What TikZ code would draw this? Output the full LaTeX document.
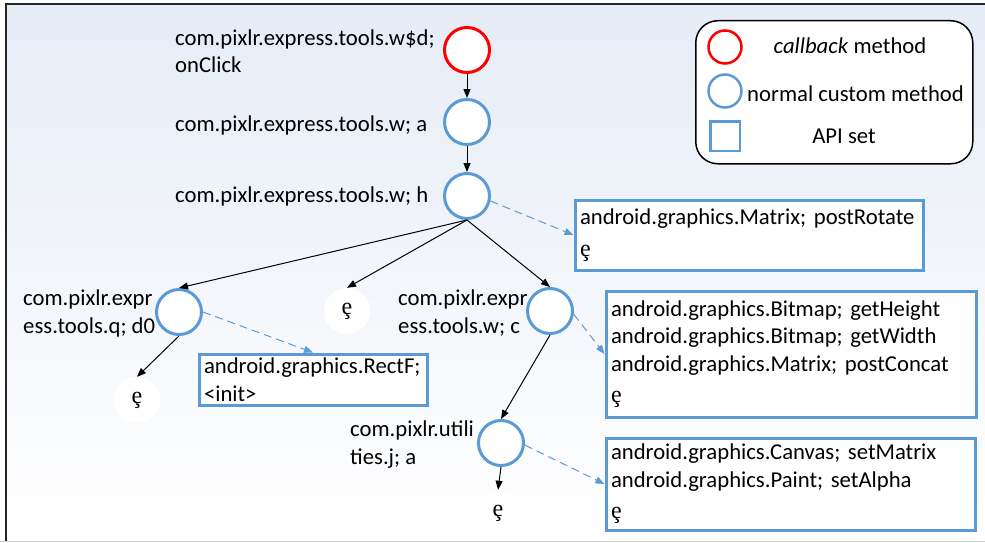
\documentclass[tikz,border=0pt]{standalone}
\usepackage{fontspec}
\setmainfont{Carlito}
\newfontfamily\glyphfont{Liberation Serif}
\usetikzlibrary{arrows.meta}
\definecolor{cbblue}{HTML}{5B9BD5}
\definecolor{cbred}{HTML}{FF0000}
\definecolor{bgtop}{HTML}{E6ECF6}
\definecolor{bgmid}{HTML}{F2F5FB}
\newcommand{\eglyph}{{\glyphfont\fontsize{24}{24}\selectfont ȩ}}
\frenchspacing
\begin{document}
\begin{tikzpicture}[x=1pt,y=-1pt,
  font=\fontsize{22.7}{27.5}\selectfont,
  meth/.style={circle,draw=cbblue,line width=3pt,fill=white,minimum size=45pt,inner sep=0pt},
  cbk/.style={meth,draw=cbred},
  leaf/.style={circle,fill=white,minimum size=46pt,inner sep=0pt},
  apibox/.style={draw=cbblue,line width=3pt,fill=white,align=left,inner xsep=5pt,inner ysep=0pt,anchor=north west},
  lbl/.style={anchor=base west,inner sep=0pt,align=left},
  call/.style={-{Triangle[length=9pt,width=7pt]},line width=1pt,black},
  api/.style={-{Triangle[length=9pt,width=7pt]},line width=1pt,cbblue,dash pattern=on 8pt off 5pt}
]
\useasboundingbox (0,0) rectangle (985,543);
\shade[top color=bgtop, middle color=bgmid, bottom color=white] (6,4) rectangle (985,541);
\draw[black!85,line width=1.5pt] (6,541) -- (6,4) -- (985,4);
\draw[black!18,line width=1.5pt] (0,541.5) -- (985,541.5);

% legend
\node[draw,line width=1.5pt,rounded corners=22pt,fill=white,minimum width=277pt,minimum height=143pt,anchor=north west,inner sep=0pt] (leg) at (695,20) {};
\node[cbk,minimum size=33pt,line width=2.5pt] (lr) at (725,47) {};
\node[meth,minimum size=33pt,line width=2.5pt] (lb) at (725,91) {};
\node[draw=cbblue,line width=2.5pt,minimum size=29.5pt,inner sep=0pt,fill=white] (ls) at (725,136) {};
\node[anchor=base,inner sep=0pt] (t1) at (850,54) {\textit{callback} method};
\node[anchor=base west,inner sep=0pt] (t2) at (747,101) {normal custom method};
\node[anchor=base,inner sep=0pt] (t3) at (844,143) {API set};

% methods
\node[cbk] (r) at (467,50) {};
\node[meth] (a) at (467,122) {};
\node[meth] (h) at (467,196) {};
\node[meth] (d0) at (179,312) {};
\node[leaf] (e1) at (347,311) {\eglyph};
\node[meth] (c) at (550,311) {};
\node[leaf] (e2) at (137,400) {\eglyph};
\node[meth] (j) at (501,443) {};
\node[leaf] (e3) at (498,513) {\eglyph};

% labels
\node[lbl] (l0) at (175,73) {com.pixlr.express.tools.w\$d;\\onClick};
\node[lbl] (l1) at (175,131) {com.pixlr.express.tools.w; a};
\node[lbl] (l2) at (175,202) {com.pixlr.express.tools.w; h};
\node[lbl] (l3) at (23,333) {com.pixlr.expr\\ess.tools.q; d0};
\node[lbl] (l4) at (398,333) {com.pixlr.expr\\ess.tools.w; c};
\node[lbl] (l5) at (350,464) {com.pixlr.utili\\ties.j; a};

% API boxes
\node[apibox,minimum width=348pt,minimum height=70pt,text width=338pt] (mbox) at (573.5,198.5)
  {android.graphics.Matrix; postRotate\\[4pt]\eglyph};
\node[apibox,minimum width=228pt,minimum height=51pt,text width=218pt] (rectf) at (197.5,352.5)
  {android.graphics.RectF;\\<init>};
\node[apibox,minimum width=370pt,minimum height=126pt,text width=360pt] (bmp) at (604.5,289.5)
  {android.graphics.Bitmap; getHeight\\android.graphics.Bitmap; getWidth\\android.graphics.Matrix; postConcat\\[4pt]\eglyph};
\node[apibox,minimum width=369pt,minimum height=92pt,text width=359pt] (cv) at (604.5,436.5)
  {android.graphics.Canvas; setMatrix\\android.graphics.Paint; setAlpha\\[4pt]\eglyph};

% calls
\draw[call] (r) -- (a);
\draw[call] (a) -- (h);
\draw[call] (h.south) -- (d0.north);
\draw[call] (h.south) -- (e1.north);
\draw[call] (h.south) -- (c.north);
\draw[call] (d0.south) -- (e2.north);
\draw[call] (c.south) -- (j.north);
\draw[call] (j.south) -- (e3.north);

% api usage
\draw[api] (h.-12) -- (mbox.west);
\draw[api] (d0.east) -- (rectf.north);
\draw[api] (c.-8) -- (bmp.west);
\draw[api] (j.-5) -- (cv.west);
\end{tikzpicture}
\end{document}
